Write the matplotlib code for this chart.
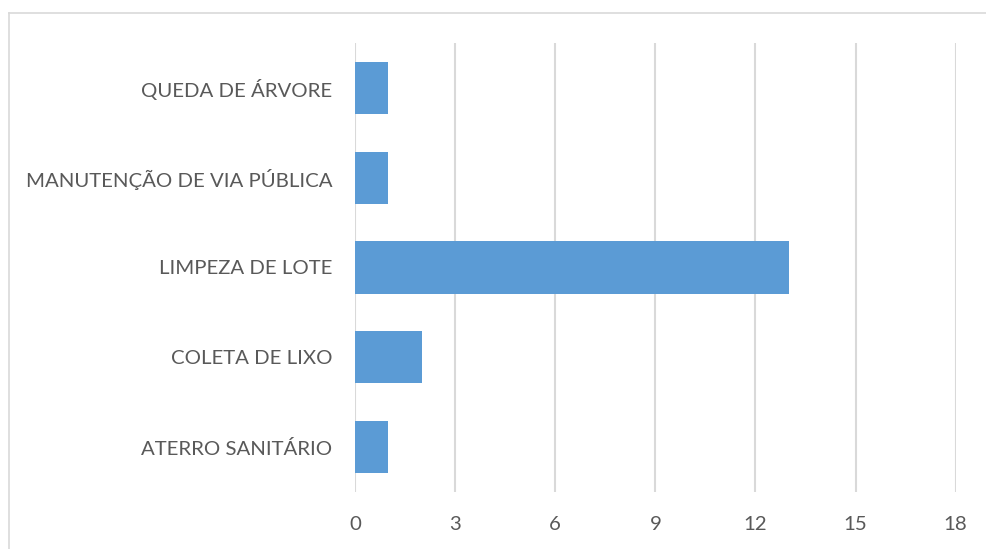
import matplotlib.pyplot as plt
from matplotlib.lines import Line2D

# categories listed bottom to top
categories = ['ATERRO SANITÁRIO', 'COLETA DE LIXO', 'LIMPEZA DE LOTE',
              'MANUTENÇÃO DE VIA PÚBLICA', 'QUEDA DE ÁRVORE']
values = [1, 2, 13, 1, 1]
xticks = [0, 3, 6, 9, 12, 15, 18]

bar_color = '#5B9BD5'
grid_color = '#D9D9D9'
text_color = '#595959'

plt.rcParams['font.family'] = ['Lato', 'DejaVu Sans']

fig = plt.figure(figsize=(9.86, 5.49), dpi=100)
ax = fig.add_axes([355 / 986, 1 - 492 / 549, (955.7 - 355) / 986, (492 - 43) / 549])

ax.barh(range(len(categories)), values, height=0.58, color=bar_color, zorder=3)
ax.set_xlim(0, 18)
ax.set_ylim(-0.5, len(categories) - 0.5)
ax.set_xticks(xticks)
ax.set_xticklabels([str(t) for t in xticks])
ax.set_yticks(range(len(categories)))
ax.set_yticklabels(categories)

for t in xticks:
    ax.axvline(t, color=grid_color, lw=1.5, zorder=1)

for s in ax.spines.values():
    s.set_visible(False)
ax.tick_params(axis='both', length=0, labelsize=14.7, colors=text_color)
ax.tick_params(axis='x', pad=17)
ax.tick_params(axis='y', pad=16.5)

# chart border (cut off at right and bottom of the picture)
fig.add_artist(Line2D([8.5 / 986, 8.5 / 986], [0, 1 - 13 / 549],
                      transform=fig.transFigure, color=grid_color, lw=1.2))
fig.add_artist(Line2D([8.5 / 986, 1], [1 - 13 / 549, 1 - 13 / 549],
                      transform=fig.transFigure, color=grid_color, lw=1.2))

fig.savefig('out.png', dpi=100)
